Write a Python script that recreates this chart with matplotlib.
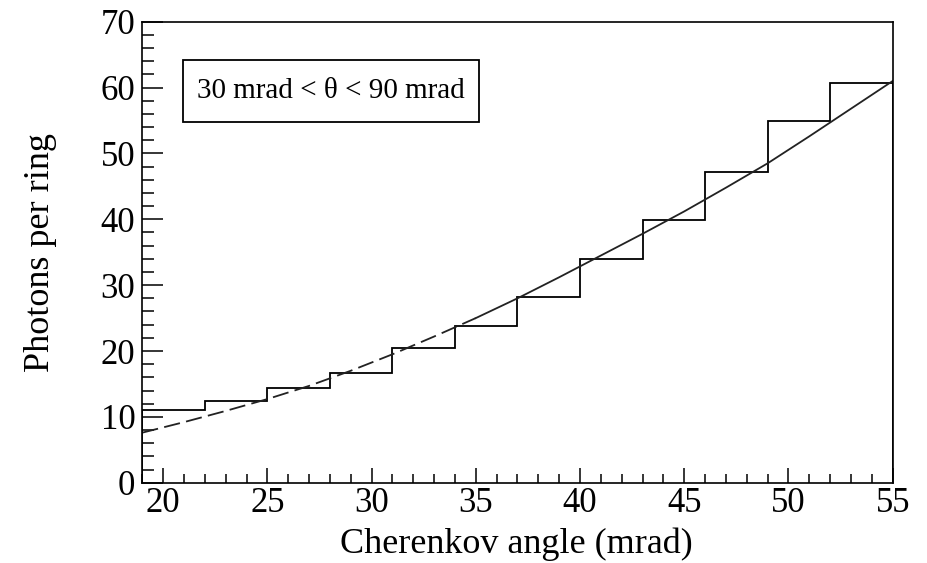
#!/usr/bin/env python3
"""Photons per ring vs Cherenkov angle: binned yield with the fitted curve."""
import matplotlib
matplotlib.use("Agg")
import matplotlib.pyplot as plt
import numpy as np
from matplotlib.patches import Rectangle
from matplotlib.ticker import MultipleLocator

# histogram: bin edges (mrad) and photons per ring in each bin
bin_edges = [19, 22, 25, 28, 31, 34, 37, 40, 43, 46, 49, 52, 55]
photons = [11.0, 12.4, 14.4, 16.7, 20.4, 23.8, 28.2, 33.9, 39.9, 47.2, 54.9, 60.7]

# fitted curve sampled along the angle axis
fit_angle = [19, 21, 23, 25, 27, 29, 31, 33, 35, 37, 39, 41, 43, 45, 47, 49, 51, 53, 55]
fit_photons = [7.6, 9.2, 10.9, 12.7, 14.7, 17.0, 19.5, 22.2, 25.0, 28.0, 31.2,
               34.5, 37.8, 41.2, 44.8, 48.5, 52.6, 56.8, 61.0]
fit_solid_from = 35  # fit drawn dashed below this angle

plt.rcParams["font.family"] = ["Liberation Serif", "DejaVu Serif"]

fig = plt.figure(figsize=(9.27, 5.63), dpi=100)
ax = fig.add_axes([0.1535, 0.1426, 0.8095, 0.8188])

ax.stairs(photons, bin_edges, color="black", linewidth=1.3)

fa = np.array(fit_angle)
fp = np.array(fit_photons)
lo = fa <= fit_solid_from
hi = fa >= fit_solid_from
ax.plot(fa[lo], fp[lo], color="#222222", linewidth=1.3, linestyle=(0, (9, 3.5)))
ax.plot(fa[hi], fp[hi], color="#222222", linewidth=1.3)

ax.set_xlim(19, 55)
ax.set_ylim(0, 70)
ax.xaxis.set_major_locator(MultipleLocator(5))
ax.xaxis.set_minor_locator(MultipleLocator(1))
ax.yaxis.set_major_locator(MultipleLocator(10))
ax.yaxis.set_minor_locator(MultipleLocator(2))

ax.tick_params(axis="x", which="major", direction="in", length=11, width=1.1,
               labelsize=25, pad=3)
ax.tick_params(axis="x", which="minor", direction="in", length=6.5, width=1.1)
ax.tick_params(axis="y", which="major", direction="in", length=15, width=1.1,
               labelsize=25, pad=5)
ax.tick_params(axis="y", which="minor", direction="in", length=8.5, width=1.1)
for side in ax.spines.values():
    side.set_linewidth(1.2)

ax.set_xlabel("Cherenkov angle (mrad)", fontsize=26)
ax.xaxis.set_label_coords(0.498, -0.1345)
ax.xaxis.label.set_verticalalignment("center")
ax.set_ylabel("Photons per ring", fontsize=26)
ax.yaxis.set_label_coords(-0.136, 0.5)
ax.yaxis.label.set_verticalalignment("center")

# condition box
ax.add_patch(Rectangle((0.0542, 0.7825), 0.3945, 0.1345, transform=ax.transAxes,
                       facecolor="white", edgecolor="black", linewidth=1.3,
                       zorder=3))
ax.text(0.251, 0.85, "30 mrad < \u03b8 < 90 mrad", transform=ax.transAxes,
        fontsize=21, ha="center", va="center", zorder=4)

fig.savefig("out.png", dpi=100)
